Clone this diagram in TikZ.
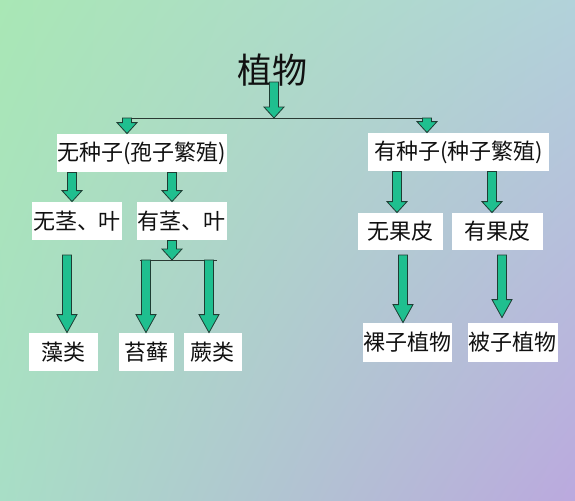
\documentclass[tikz,border=0pt]{standalone}
\usepackage{fontspec}
\newfontfamily\cjk{Noto Sans CJK SC}
\usetikzlibrary{calc,shadings}
\definecolor{cTL}{HTML}{A9E7B5}
\definecolor{cTR}{HTML}{B2D2DA}
\definecolor{cBL}{HTML}{A8DEC6}
\definecolor{cBR}{HTML}{BBA9DE}
\definecolor{cArrow}{HTML}{1FBF8F}
\definecolor{cEdge}{HTML}{1E3D33}
\definecolor{cLine}{HTML}{2A3A33}
\definecolor{cInk}{HTML}{111111}
\tikzset{
  box/.style={fill=white,inner sep=0pt,minimum height=19pt,font=\cjk\fontsize{11}{13}\selectfont,text=cInk},
  blk/.style={draw=cEdge,fill=cArrow,line width=0.4pt,
    to path={let \p1=(\tikztostart),\p2=(\tikztotarget) in
      (\x1-2.25pt,\y1) -- (\x1-2.25pt,\y2+#1) -- (\x1-5pt,\y2+#1) -- (\x1,\y2)
      -- (\x1+5pt,\y2+#1) -- (\x1+2.25pt,\y2+#1) -- (\x1+2.25pt,\y1) -- cycle}},
  blk/.default=5.5pt,
  bar/.style={draw=cLine,line width=0.5pt},
}

\begin{document}
\begin{tikzpicture}[x=0.5pt,y=-0.5pt]
  % background
  \shade[upper left=cTL,upper right=cTR,lower left=cBL,lower right=cBR] (0,0) rectangle (575,500);

  % title and first split
  \node[font=\cjk\fontsize{17.5}{20}\selectfont,text=cInk,inner sep=0pt] (plant) at (273,70) {植物};
  \coordinate (t0) at (274,82);
  \coordinate (j0) at (274,118);
  \coordinate (j1) at (127,118);
  \coordinate (j2) at (427,118);

  \node[box,minimum width=85pt] (nos) at (142,153) {无种子(孢子繁殖)};
  \node[box,minimum width=90.5pt] (yess) at (458.5,152) {有种子(种子繁殖)};

  \draw[bar] (j1) -- (j2);
  \draw[blk] (t0) to (j0);
  \draw[blk] (j1) to (nos.north);
  \draw[blk] (j2) to (yess.north);

  % spore plants
  \node[box,minimum width=45pt] (nostem) at (77,221) {无茎、叶};
  \node[box,minimum width=45pt] (stem) at (182,221) {有茎、叶};
  \draw[blk] ([xshift=-35pt]nos.south) to (nostem.north);
  \draw[blk] ([xshift=15pt]nos.south) to (stem.north);

  \coordinate (k0) at (172,260);
  \coordinate (k1) at (140,260);
  \coordinate (k2) at (217,260);
  \coordinate (m1) at (146,260);
  \coordinate (m2) at (209,260);
  \coordinate (s7) at (67,255);

  \node[box,minimum width=34.5pt] (algae) at (63.5,352) {藻类};
  \node[box,minimum width=27.5pt] (moss) at (146.5,352) {苔藓};
  \node[box,minimum width=29pt] (fern) at (213,352) {蕨类};

  \draw[bar] (k1) -- (k2);
  \draw[blk] ([xshift=-5pt]stem.south) to (k0);
  \draw[blk=9pt] (s7) to (algae.north);
  \draw[blk=9pt] (m1) to (moss.north);
  \draw[blk=9pt] (m2) to (fern.north);

  % seed plants
  \node[box,minimum width=42.5pt,minimum height=18.5pt] (nopeel) at (400.5,231.5) {无果皮};
  \node[box,minimum width=45.5pt,minimum height=18.5pt] (peel) at (497.5,231.5) {有果皮};
  \draw[blk] ([xshift=-30.75pt]yess.south) to (nopeel.north);
  \draw[blk] ([xshift=16.75pt]yess.south) to (peel.north);

  \coordinate (s10) at (403,255);
  \coordinate (s11) at (502,255);
  \node[box,minimum width=44.5pt,minimum height=19.5pt] (gymno) at (407.5,342.5) {裸子植物};
  \node[box,minimum width=45pt,minimum height=19.5pt] (angio) at (513,342.5) {被子植物};
  \draw[blk=9pt] (s10) to (gymno.north);
  \draw[blk=9pt] (s11) to ([yshift=2.5pt]angio.north);
\end{tikzpicture}
\end{document}
